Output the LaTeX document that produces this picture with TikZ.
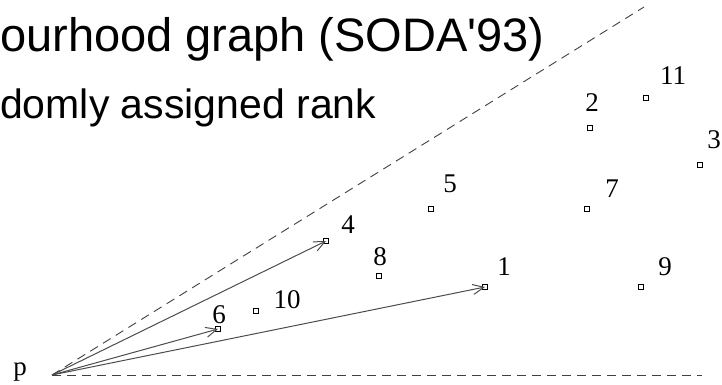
\documentclass[tikz,border=0pt]{standalone}
\usepackage{fontspec}
\setmainfont{Liberation Serif}
\newfontfamily\titlefont{Liberation Sans}
\usetikzlibrary{arrows.meta}

\begin{document}
\begin{tikzpicture}[
  x=1pt,y=-1pt,
  site/.style={rectangle,draw,fill=white,line width=0.9pt,minimum width=5.5pt,minimum height=5pt,inner sep=0pt},
  rank/.style={font=\fontsize{27}{27}\selectfont,inner sep=0pt,anchor=base},
  ray/.style={draw=black!70,line width=1pt,-{Straight Barb[length=11pt,width=10pt]}},
  bound/.style={draw=black!75,line width=0.9pt,dash pattern=on 9pt off 6pt}
]
\useasboundingbox (0,0) rectangle (722,385);

% texte
\node[anchor=base west,inner sep=0pt,font=\titlefont\fontsize{47}{47}\selectfont] (title) at (0,52) {ourhood graph (SODA'93)};
\node[anchor=base west,inner sep=0pt,font=\titlefont\fontsize{41}{41}\selectfont] (rankline) at (0,118) {domly assigned rank};

\coordinate (p) at (52,375);
\coordinate (top) at (644,7);
\coordinate (right) at (702,375);
\node[rank] (lp) at (20,375) {p};

\draw[bound] (p) -- (top);
\draw[bound] (p) -- (right);

% points
\node[site] (s1) at (485,287) {};
\node[site] (s2) at (590,128) {};
\node[site] (s3) at (700,165) {};
\node[site] (s4) at (326,241) {};
\node[site] (s5) at (431,209) {};
\node[site] (s6) at (218,329) {};
\node[site] (s7) at (587,209) {};
\node[site] (s8) at (379,276) {};
\node[site] (s9) at (641,287) {};
\node[site] (s10) at (256,311) {};
\node[site] (s11) at (646,98) {};

\node[rank] (l1) at (504,275) {1};
\node[rank] (l2) at (592,112) {2};
\node[rank] (l3) at (714,148) {3};
\node[rank] (l4) at (348,233) {4};
\node[rank] (l5) at (450,192) {5};
\node[rank] (l6) at (219,323) {6};
\node[rank] (l7) at (612,197) {7};
\node[rank] (l8) at (380,265) {8};
\node[rank] (l9) at (665,275) {9};
\node[rank] (l10) at (287,308) {10};
\node[rank] (l11) at (673,85) {11};

\draw[ray] (p) -- (s4.center);
\draw[ray] (p) -- (s6.center);
\draw[ray] (p) -- (s1.center);

\end{tikzpicture}
\end{document}
